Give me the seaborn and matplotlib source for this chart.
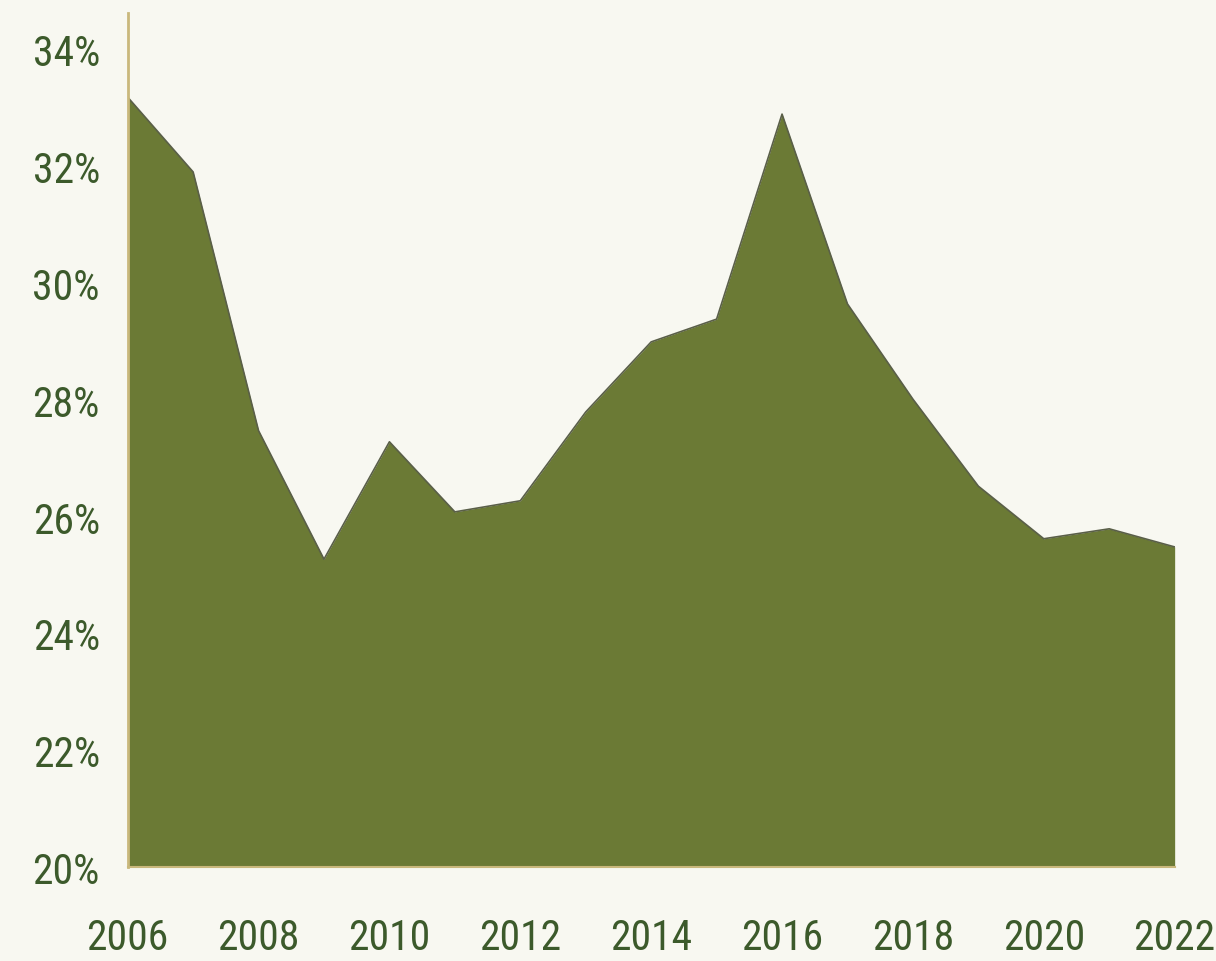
import pandas as pd
import matplotlib.pyplot as plt
import seaborn as sns

years = list(range(2006, 2023))
share = [33.18, 31.90, 27.47, 25.27, 27.28, 26.08, 26.27, 27.79, 28.99,
         29.38, 32.89, 29.64, 28.01, 26.52, 25.62, 25.79, 25.48]
y_ticks = [20, 22, 24, 26, 28, 30, 32, 34]
x_ticks = list(range(2006, 2023, 2))

bg = "#f8f8f1"
fill = "#6b7a35"
text_col = "#3c5a2b"
spine_col = "#c9b87c"

sns.set_style("white")
plt.rcParams['font.family'] = ['Roboto Condensed', 'Liberation Sans Narrow', 'Roboto', 'DejaVu Sans']

df = pd.DataFrame({"year": years, "share": share})

fig = plt.figure(figsize=(12.16, 9.62), dpi=100, facecolor=bg)
ax = fig.add_axes([0.105, 0.0977, 0.861, 0.8877])
ax.set_facecolor(bg)

# filled area under the series, then a thin edge line on top
ax.fill_between(df["year"], 20, df["share"], color=fill, linewidth=0, zorder=2)
sns.lineplot(data=df, x="year", y="share", ax=ax, color="#5a5f48", linewidth=1.2, zorder=3)

ax.set_xlim(2006, 2022)
ax.set_ylim(20, 34.62)
ax.set_yticks(y_ticks)
ax.set_yticklabels([f"{v}%" for v in y_ticks])
ax.set_xticks(x_ticks)
ax.set_xticklabels([str(v) for v in x_ticks])
ax.tick_params(axis="y", length=0, pad=20, labelsize=30, labelcolor=text_col)
ax.tick_params(axis="x", length=0, pad=36, labelsize=30, labelcolor=text_col)
ax.set_xlabel("")
ax.set_ylabel("")

for s in ["top", "right"]:
    ax.spines[s].set_visible(False)
ax.spines["left"].set_color(spine_col)
ax.spines["left"].set_linewidth(2)
ax.spines["bottom"].set_color(spine_col)
ax.spines["bottom"].set_linewidth(1.5)
ax.spines["left"].set_zorder(4)

fig.savefig("out.png", dpi=100, facecolor=bg)
